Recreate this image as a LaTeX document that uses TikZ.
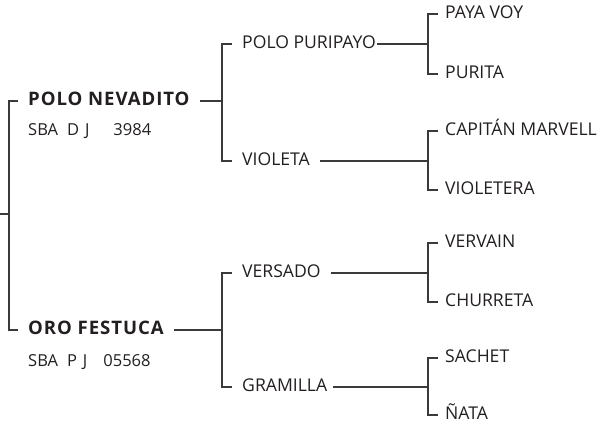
\documentclass[tikz,border=0pt]{standalone}
\usepackage{fontspec}
\setmainfont{Open Sans}
\newfontfamily\sirefont{Open Sans}[LetterSpace=5]
\usepackage{tikz}
\usetikzlibrary{positioning}
\definecolor{pedink}{HTML}{231F20}
\definecolor{pedline}{HTML}{3A3A3A}

\begin{document}
\begin{tikzpicture}[x=1pt,y=-1pt,
    horse/.style={anchor=west,inner ysep=0pt,text height=0.95em,text depth=0pt,
      font=\fontsize{17.6}{21}\selectfont,text=pedink},
    sire/.style={horse,inner xsep=10pt,font=\fontsize{18.6}{22}\selectfont\sirefont\bfseries},
    gen2/.style={horse,inner xsep=10pt},
    gen3/.style={horse,inner xsep=7pt},
    reg/.style={anchor=west,inner sep=0pt,font=\fontsize{16.5}{20}\selectfont,text=pedink},
    link/.style={draw=pedline,line width=1.2pt}]
    \useasboundingbox (0,0) rectangle (603,425);
    % first generation
    \node[sire] (pn) at (18,101) {POLO NEVADITO};
    \node[reg] (pnreg) at (28,131) {SBA\hspace{9pt}D\hspace{6pt}J\hspace{24pt}3984};
    \node[sire] (of) at (18,330) {ORO FESTUCA};
    \node[reg] (ofreg) at (28,362) {SBA\hspace{9pt}P\hspace{6pt}J\hspace{16pt}05568};
    % second generation
    \node[gen2] (pp) at (232,44) {POLO PURIPAYO};
    \node[gen2] (vi) at (232,161) {VIOLETA};
    \node[gen2] (ve) at (232,273) {VERSADO};
    \node[gen2] (gr) at (232,387) {GRAMILLA};
    % third generation
    \node[gen3] (py) at (438,14) {PAYA VOY};
    \node[gen3] (pu) at (438,74) {PURITA};
    \node[gen3] (cm) at (438,131) {CAPITÁN MARVELL};
    \node[gen3] (vt) at (438,190) {VIOLETERA};
    \node[gen3] (vv) at (438,243) {VERVAIN};
    \node[gen3] (ch) at (438,302) {CHURRETA};
    \node[gen3] (sa) at (438,358) {SACHET};
    \node[gen3] (na) at (438,415) {ÑATA};
    % junctions
    \coordinate (r0) at (0,214);
    \coordinate (r1) at (9,214);
    \coordinate (j1) at (222,101);
    \coordinate (j2) at (222,330);
    \coordinate (k1) at (428,44);
    \coordinate (k2) at (428,161);
    \coordinate (k3) at (428,273);
    \coordinate (k4) at (428,387);
    % brackets
    \draw[link] (r0) -- (r1);
    \draw[link] (pn.west) -| (r1) |- (of.west);
    \draw[link] (pn.east) -- (j1);
    \draw[link] (of.east) -- (j2);
    \draw[link] (pp.west) -| (j1) |- (vi.west);
    \draw[link] (ve.west) -| (j2) |- (gr.west);
    \draw[link,shorten <=-9pt] (pp.east) -- (k1);
    \draw[link] (vi.east) -- (k2);
    \draw[link] (ve.east) -- (k3);
    \draw[link,shorten <=-4pt] (gr.east) -- (k4);
    \draw[link] (py.west) -| (k1) |- (pu.west);
    \draw[link] (cm.west) -| (k2) |- (vt.west);
    \draw[link] (vv.west) -| (k3) |- (ch.west);
    \draw[link] (sa.west) -| (k4) |- (na.west);
\end{tikzpicture}
\end{document}
